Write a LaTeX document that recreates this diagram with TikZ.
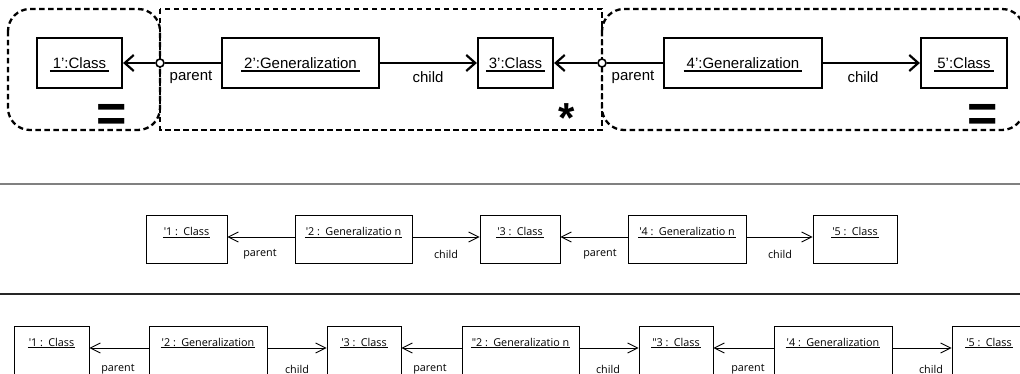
\documentclass[tikz,border=0pt]{standalone}
\usepackage{fontspec}
\setmainfont{Liberation Sans}
\newfontfamily\smallsans{Open Sans}
\usetikzlibrary{arrows.meta}

\newsavebox\ulinebox
% text with a rule under it: #1 drop below baseline, #2 rule thickness, #3 side padding, #4 text
\newcommand{\ulined}[4]{\sbox\ulinebox{\hspace{#3}#4\hspace{#3}}%
  \makebox[0pt][l]{\rule[-#1]{\wd\ulinebox}{#2}}\usebox\ulinebox}
\newcommand{\bigname}[1]{\ulined{3.3pt}{1.5pt}{3pt}{#1}}
\newcommand{\smallname}[2]{\ulined{2pt}{0.9pt}{1pt}{#1 :\enspace #2}}

\tikzset{
  bigobj/.style={draw, line width=2.2pt, inner xsep=0pt, inner ysep=0pt,
    text height=30.4pt, text depth=19.6pt, font=\fontsize{15}{18}\selectfont},
  smallobj/.style={draw, line width=0.9pt, inner xsep=0pt, inner ysep=0pt,
    text height=21pt, text depth=27pt, font=\smallsans\fontsize{10.8}{12}\selectfont},
  lowobj/.style={smallobj, text height=20pt, text depth=30pt},
  biglbl/.style={inner sep=0pt, font=\fontsize{15}{18}\selectfont},
  smalllbl/.style={inner sep=0pt, font=\smallsans\fontsize{10.8}{12}\selectfont},
  bigline/.style={line width=2.2pt},
  bigarrow/.style={line width=2.2pt, -{Straight Barb[length=9pt, width=16pt]}},
  smallarrow/.style={line width=0.9pt, -{Straight Barb[length=10pt, width=10pt]}},
  joint/.style={circle, draw, fill=white, line width=1.6pt, inner sep=0pt, minimum size=8pt},
  region/.style={line width=2.3pt, dash pattern=on 5.5pt off 3.5pt},
  signtext/.style={inner sep=0pt, anchor=base}
}

\begin{document}
\begin{tikzpicture}[x=1pt, y=-1pt]
\useasboundingbox (0,0) rectangle (1020,374);
\clip (0,0) rectangle (1020,374);

% ---- rule: pattern with its matching groups ----
\draw[region, rounded corners=22pt] (8,9) rectangle (160,130);
\draw[region] (160,9) rectangle (602,130);
\draw[region, rounded corners=22pt] (602,9) rectangle (1024,130);

\node[bigobj, minimum width=85pt]  (c1) at (79.5,63)  {\bigname{1’:Class}};
\node[bigobj, minimum width=157pt] (g2) at (300.5,63) {\bigname{2’:Generalization}};
\node[bigobj, minimum width=75pt]  (c3) at (515.5,63) {\bigname{3’:Class}};
\node[bigobj, minimum width=158pt] (g4) at (743,63)   {\bigname{4’:Generalization}};
\node[bigobj, minimum width=86pt]  (c5) at (964,63)   {\bigname{5’:Class}};

\node[joint] (j1) at (160,63) {};
\node[joint] (j2) at (602,63) {};

\draw[bigline]  (g2) -- (j1);
\draw[bigarrow] (j1) -- (c1);
\draw[bigarrow] (g2) -- (c3);
\draw[bigline]  (g4) -- (j2);
\draw[bigarrow] (j2) -- (c3);
\draw[bigarrow] (g4) -- (c5);

\node[biglbl] (t1) at (191,77) {parent};
\node[biglbl] (t2) at (428,77) {child};
\node[biglbl] (t3) at (633,77) {parent};
\node[biglbl] (t4) at (863,77) {child};

\node[signtext, font=\bfseries\fontsize{52}{52}\selectfont] (eq1) at (111.5,132) {=};
\node[signtext, font=\bfseries\fontsize{52}{52}\selectfont] (eq2) at (982.5,132) {=};
\node[signtext, font=\bfseries\fontsize{42}{42}\selectfont] (st)  at (567,133) {*};

% ---- separators ----
\draw[line width=1.4pt, black!50] (0,184) -- (1020,184);
\draw[line width=1.4pt, black!85] (0,294) -- (1020,294);

% ---- middle chain ----
\node[smallobj, minimum width=81pt]  (m1) at (186.5,239) {\smallname{\textquotesingle 1}{Class}};
\node[smallobj, minimum width=117pt] (m2) at (353.5,239) {\smallname{\textquotesingle 2}{Generalizatio n}};
\node[smallobj, minimum width=80pt]  (m3) at (520,239)   {\smallname{\textquotesingle 3}{Class}};
\node[smallobj, minimum width=118pt] (m4) at (687,239)   {\smallname{\textquotesingle 4}{Generalizatio n}};
\node[smallobj, minimum width=84pt]  (m5) at (855,239)   {\smallname{\textquotesingle 5}{Class}};

\draw[smallarrow] ([yshift=2pt]m2.west) -- ([yshift=2pt]m1.east);
\draw[smallarrow] ([yshift=2pt]m2.east) -- ([yshift=2pt]m3.west);
\draw[smallarrow] ([yshift=2pt]m4.west) -- ([yshift=2pt]m3.east);
\draw[smallarrow] ([yshift=2pt]m4.east) -- ([yshift=2pt]m5.west);

\node[smalllbl] (u1) at (260,254) {parent};
\node[smalllbl] (u2) at (446,254) {child};
\node[smalllbl] (u3) at (600,254) {parent};
\node[smalllbl] (u4) at (780,254) {child};

% ---- bottom chain ----
\node[lowobj, minimum width=75pt]  (b1) at (51.5,351)  {\smallname{\textquotesingle 1}{Class}};
\node[lowobj, minimum width=118pt] (b2) at (208,351)   {\smallname{\textquotesingle 2}{Generalization}};
\node[lowobj, minimum width=74pt]  (b3) at (364,351)   {\smallname{\textquotesingle 3}{Class}};
\node[lowobj, minimum width=117pt] (b4) at (520.5,351) {\smallname{"2}{Generalizatio n}};
\node[lowobj, minimum width=74pt]  (b5) at (676,351)   {\smallname{"3}{Class}};
\node[lowobj, minimum width=118pt] (b6) at (833,351)   {\smallname{\textquotesingle 4}{Generalization}};
\node[lowobj, minimum width=74pt]  (b7) at (989,351)   {\smallname{\textquotesingle 5}{Class}};

\draw[smallarrow] ([yshift=3pt]b2.west) -- ([yshift=3pt]b1.east);
\draw[smallarrow] ([yshift=3pt]b2.east) -- ([yshift=3pt]b3.west);
\draw[smallarrow] ([yshift=3pt]b4.west) -- ([yshift=3pt]b3.east);
\draw[smallarrow] ([yshift=3pt]b4.east) -- ([yshift=3pt]b5.west);
\draw[smallarrow] ([yshift=3pt]b6.west) -- ([yshift=3pt]b5.east);
\draw[smallarrow] ([yshift=3pt]b6.east) -- ([yshift=3pt]b7.west);

\node[smalllbl] (v1) at (118,369) {parent};
\node[smalllbl] (v2) at (297,369) {child};
\node[smalllbl] (v3) at (430,369) {parent};
\node[smalllbl] (v4) at (608,369) {child};
\node[smalllbl] (v5) at (748,369) {parent};
\node[smalllbl] (v6) at (931,369) {child};
\end{tikzpicture}
\end{document}
